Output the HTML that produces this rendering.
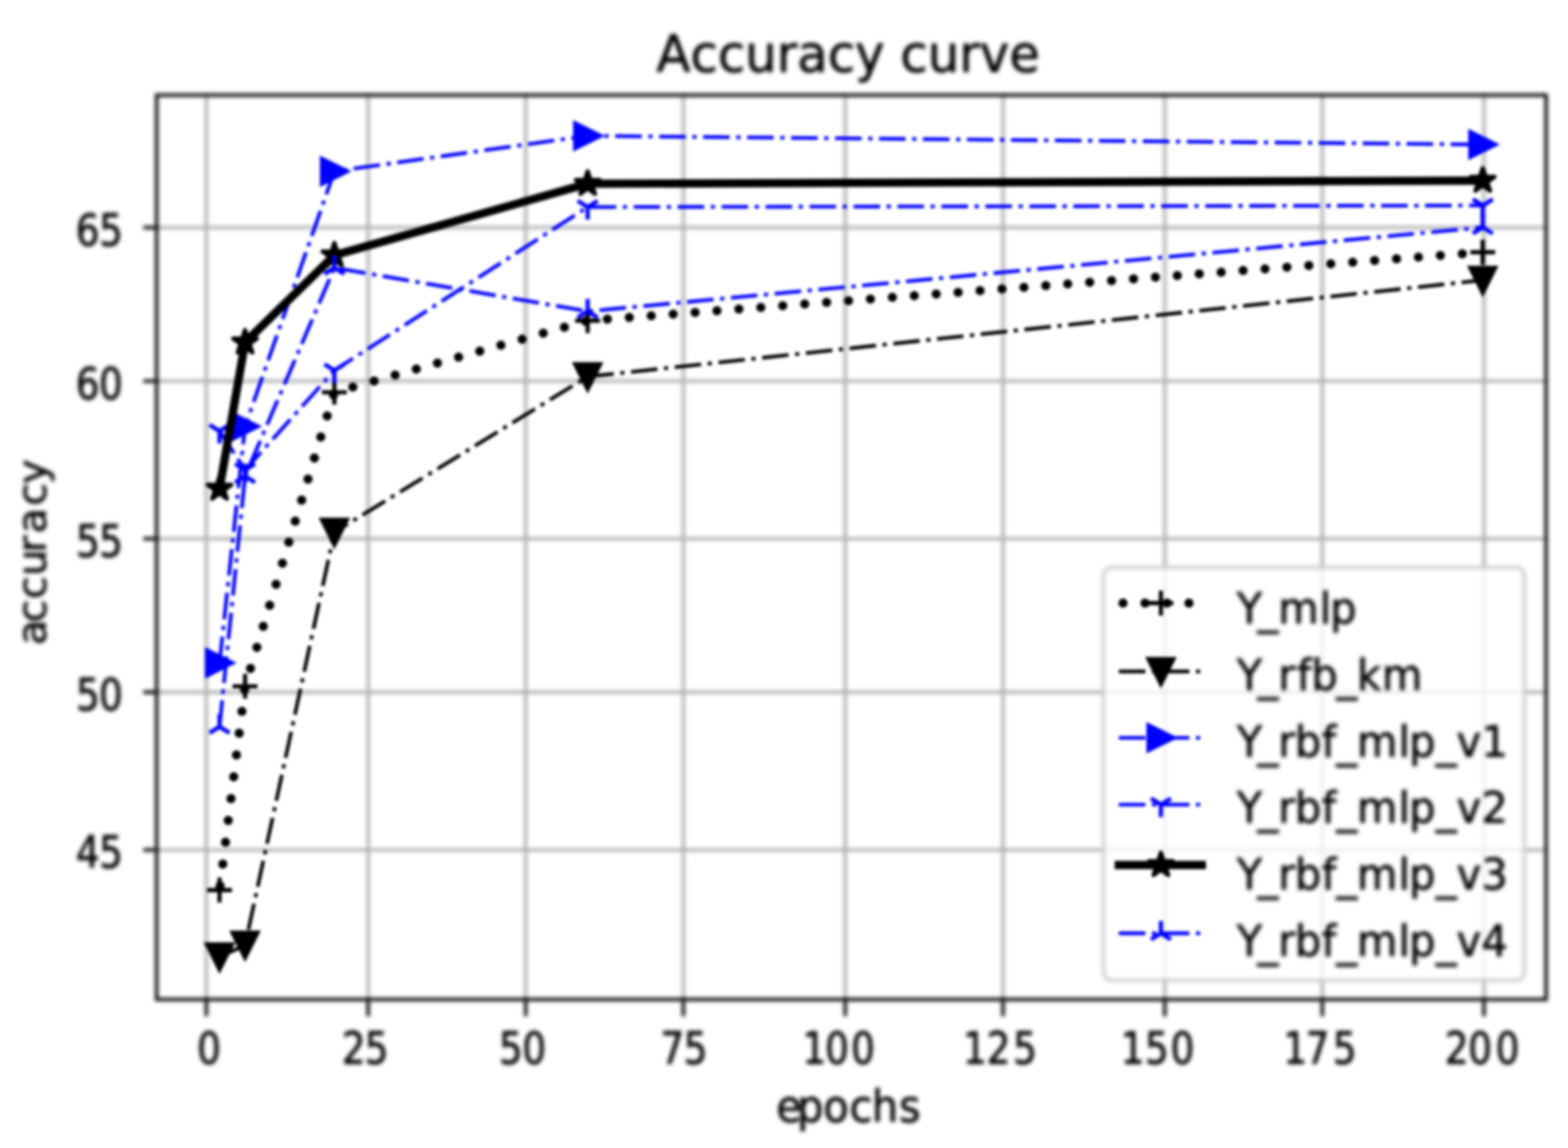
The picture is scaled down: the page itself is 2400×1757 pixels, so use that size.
<!DOCTYPE html>
<html lang="en"><head><meta charset="utf-8"><title>Accuracy curve</title>
<style>html,body{margin:0;padding:0;background:#fff;}body{width:2400px;height:1757px;overflow:hidden;}svg{display:block;}text{font-family:"DejaVu Sans", "Liberation Sans", sans-serif;fill:#000;stroke:#000;stroke-width:1px;}</style></head><body>
<svg width="2400" height="1757" viewBox="0 0 2400 1757">
<defs><filter id="b" x="0" y="0" width="2400" height="1757" filterUnits="userSpaceOnUse" color-interpolation-filters="sRGB"><feGaussianBlur stdDeviation="3.0"/></filter>
<filter id="b2" x="0" y="0" width="2400" height="1757" filterUnits="userSpaceOnUse" color-interpolation-filters="sRGB"><feGaussianBlur stdDeviation="2.2"/></filter>
<clipPath id="c"><rect x="239.8" y="145.6" width="2126.7" height="1384.0"/></clipPath></defs>
<rect width="2400" height="1757" fill="#fff"/>
<g filter="url(#b)">
<path d="M315.9 145.6V1529.6M563.5 145.6V1529.6M804.7 145.6V1529.6M1046.0 145.6V1529.6M1293.7 145.6V1529.6M1535.2 145.6V1529.6M1782.8 145.6V1529.6M2023.9 145.6V1529.6M2271.3 145.6V1529.6M239.8 348.2H2366.5M239.8 583.2H2366.5M239.8 824.5H2366.5M239.8 1059.4H2366.5M239.8 1300.7H2366.5" stroke="#b0b0b0" stroke-width="5.08" fill="none"/>
<path d="M315.9 1529.6v26.0M563.5 1529.6v26.0M804.7 1529.6v26.0M1046.0 1529.6v26.0M1293.7 1529.6v26.0M1535.2 1529.6v26.0M1782.8 1529.6v26.0M2023.9 1529.6v26.0M2271.3 1529.6v26.0M239.8 348.2h-20.5M239.8 583.2h-20.5M239.8 824.5h-20.5M239.8 1059.4h-20.5M239.8 1300.7h-20.5" stroke="#000" stroke-width="5.08" fill="none"/>
</g>
<g filter="url(#b2)"><g clip-path="url(#c)">
<path d="M336.0 1362.2L375.1 1050.3L511.8 600.3L899.5 490.7L2269.5 386.0" stroke="#000" stroke-width="13.97" fill="none" stroke-linejoin="round" stroke-dasharray="0.1 33.55" stroke-dashoffset="-6.35" stroke-linecap="round"/>
<path d="M317.0 1362.2H355.1M336.0 1343.1V1381.2" stroke="#000" stroke-width="6.35" fill="none"/>
<path d="M356.0 1050.3H394.1M375.1 1031.2V1069.3" stroke="#000" stroke-width="6.35" fill="none"/>
<path d="M492.8 600.3H530.8M511.8 581.2V619.3" stroke="#000" stroke-width="6.35" fill="none"/>
<path d="M880.4 490.7H918.5M899.5 471.7V509.8" stroke="#000" stroke-width="6.35" fill="none"/>
<path d="M2250.5 386.0H2288.5M2269.5 366.9V405.0" stroke="#000" stroke-width="6.35" fill="none"/>
<path d="M336.0 1464.6L375.1 1446.5L511.8 814.5L899.5 576.4L2269.5 428.8" stroke="#000" stroke-width="5.59" fill="none" stroke-linejoin="round" stroke-dasharray="40.63 10.16 6.35 10.16"/>
<path d="M336.0 1483.6L317.0 1445.5L355.1 1445.5Z" stroke="#000" stroke-width="6.35" fill="#000"/>
<path d="M375.1 1465.5L356.0 1427.4L394.1 1427.4Z" stroke="#000" stroke-width="6.35" fill="#000"/>
<path d="M511.8 833.6L492.8 795.5L530.8 795.5Z" stroke="#000" stroke-width="6.35" fill="#000"/>
<path d="M899.5 595.5L880.4 557.4L918.5 557.4Z" stroke="#000" stroke-width="6.35" fill="#000"/>
<path d="M2269.5 447.9L2250.5 409.8L2288.5 409.8Z" stroke="#000" stroke-width="6.35" fill="#000"/>
<path d="M336.0 1014.6L375.1 652.6L511.8 262.2L899.5 207.9L2269.5 221.2" stroke="#0000ff" stroke-width="5.59" fill="none" stroke-linejoin="round" stroke-dasharray="40.63 10.16 6.35 10.16"/>
<path d="M355.1 1014.6L317.0 995.5L317.0 1033.6Z" stroke="#0000ff" stroke-width="6.35" fill="#0000ff"/>
<path d="M394.1 652.6L356.0 633.6L356.0 671.7Z" stroke="#0000ff" stroke-width="6.35" fill="#0000ff"/>
<path d="M530.8 262.2L492.8 243.1L492.8 281.2Z" stroke="#0000ff" stroke-width="6.35" fill="#0000ff"/>
<path d="M918.5 207.9L880.4 188.8L880.4 226.9Z" stroke="#0000ff" stroke-width="6.35" fill="#0000ff"/>
<path d="M2288.5 221.2L2250.5 202.2L2250.5 240.2Z" stroke="#0000ff" stroke-width="6.35" fill="#0000ff"/>
<path d="M336.0 659.8L375.1 719.3L511.8 566.9L899.5 316.9L2269.5 314.5" stroke="#0000ff" stroke-width="5.59" fill="none" stroke-linejoin="round" stroke-dasharray="40.63 10.16 6.35 10.16"/>
<path d="M336.0 659.8L336.0 678.8M336.0 659.8L351.3 650.3M336.0 659.8L320.8 650.3" stroke="#0000ff" stroke-width="6.35" fill="none"/>
<path d="M375.1 719.3L375.1 738.4M375.1 719.3L390.3 709.8M375.1 719.3L359.9 709.8" stroke="#0000ff" stroke-width="6.35" fill="none"/>
<path d="M511.8 566.9L511.8 586.0M511.8 566.9L527.0 557.4M511.8 566.9L496.6 557.4" stroke="#0000ff" stroke-width="6.35" fill="none"/>
<path d="M899.5 316.9L899.5 336.0M899.5 316.9L914.7 307.4M899.5 316.9L884.2 307.4" stroke="#0000ff" stroke-width="6.35" fill="none"/>
<path d="M2269.5 314.5L2269.5 333.6M2269.5 314.5L2284.7 305.0M2269.5 314.5L2254.3 305.0" stroke="#0000ff" stroke-width="6.35" fill="none"/>
<path d="M336.0 747.9L375.1 524.1L511.8 390.7L899.5 281.2L2269.5 276.4" stroke="#000" stroke-width="12.70" fill="none" stroke-linejoin="round" stroke-linecap="square"/>
<polygon points="336.0,728.8 340.3,742.0 354.1,742.0 342.9,750.1 347.2,763.3 336.0,755.2 324.8,763.3 329.1,750.1 317.9,742.0 331.8,742.0" stroke="#000" stroke-width="6.35" fill="#000" stroke-linejoin="round"/>
<polygon points="375.1,505.0 379.4,518.2 393.2,518.2 382.0,526.3 386.3,539.5 375.1,531.3 363.9,539.5 368.2,526.3 357.0,518.2 370.8,518.2" stroke="#000" stroke-width="6.35" fill="#000" stroke-linejoin="round"/>
<polygon points="511.8,371.7 516.1,384.8 529.9,384.8 518.7,393.0 523.0,406.1 511.8,398.0 500.6,406.1 504.9,393.0 493.7,384.8 507.5,384.8" stroke="#000" stroke-width="6.35" fill="#000" stroke-linejoin="round"/>
<polygon points="899.5,262.2 903.7,275.3 917.6,275.3 906.4,283.5 910.7,296.6 899.5,288.5 888.3,296.6 892.6,283.5 881.4,275.3 895.2,275.3" stroke="#000" stroke-width="6.35" fill="#000" stroke-linejoin="round"/>
<polygon points="2269.5,257.4 2273.8,270.6 2287.6,270.6 2276.4,278.7 2280.7,291.9 2269.5,283.7 2258.3,291.9 2262.6,278.7 2251.4,270.6 2265.2,270.6" stroke="#000" stroke-width="6.35" fill="#000" stroke-linejoin="round"/>
<path d="M336.0 1112.2L375.1 728.8L511.8 409.8L899.5 476.4L2269.5 347.9" stroke="#0000ff" stroke-width="5.59" fill="none" stroke-linejoin="round" stroke-dasharray="40.63 10.16 6.35 10.16"/>
<path d="M336.0 1112.2L336.0 1093.1M336.0 1112.2L351.3 1121.7M336.0 1112.2L320.8 1121.7" stroke="#0000ff" stroke-width="6.35" fill="none"/>
<path d="M375.1 728.8L375.1 709.8M375.1 728.8L390.3 738.4M375.1 728.8L359.9 738.4" stroke="#0000ff" stroke-width="6.35" fill="none"/>
<path d="M511.8 409.8L511.8 390.7M511.8 409.8L527.0 419.3M511.8 409.8L496.6 419.3" stroke="#0000ff" stroke-width="6.35" fill="none"/>
<path d="M899.5 476.4L899.5 457.4M899.5 476.4L914.7 486.0M899.5 476.4L884.2 486.0" stroke="#0000ff" stroke-width="6.35" fill="none"/>
<path d="M2269.5 347.9L2269.5 328.8M2269.5 347.9L2284.7 357.4M2269.5 347.9L2254.3 357.4" stroke="#0000ff" stroke-width="6.35" fill="none"/>
</g></g>
<g filter="url(#b)">
<rect x="239.8" y="145.6" width="2126.7" height="1384.0" fill="none" stroke="#000" stroke-width="5.08"/>
<text transform="translate(0 1628.0) scale(0.9 1.06)" x="335.3" y="0" font-size="63.49">0</text>
<text transform="translate(0 1628.0) scale(0.9 1.06)" x="581.4 620.4" y="0" font-size="63.49">25</text>
<text transform="translate(0 1628.0) scale(0.9 1.06)" x="848.5 888.4" y="0" font-size="63.49">50</text>
<text transform="translate(0 1628.0) scale(0.9 1.06)" x="1123.4 1162.7" y="0" font-size="63.49">75</text>
<text transform="translate(0 1628.0) scale(0.9 1.06)" x="1364.8 1403.3 1447.5" y="0" font-size="63.49">100</text>
<text transform="translate(0 1628.0) scale(0.9 1.06)" x="1637.9 1678.1 1723.0" y="0" font-size="63.49">125</text>
<text transform="translate(0 1628.0) scale(0.9 1.06)" x="1906.0 1947.2 1990.8" y="0" font-size="63.49">150</text>
<text transform="translate(0 1628.0) scale(0.9 1.06)" x="2182.6 2220.6 2266.7" y="0" font-size="63.49">175</text>
<text transform="translate(0 1628.0) scale(0.9 1.06)" x="2457.3 2496.9 2543.7" y="0" font-size="63.49">200</text>
<text transform="translate(0 375.7) scale(0.9 1.06)" x="128.8 168.7" y="0" font-size="63.49">65</text>
<text transform="translate(0 610.7) scale(0.9 1.06)" x="128.8 168.4" y="0" font-size="63.49">60</text>
<text transform="translate(0 852.0) scale(0.9 1.06)" x="129.4 168.7" y="0" font-size="63.49">55</text>
<text transform="translate(0 1086.9) scale(0.9 1.06)" x="129.4 168.4" y="0" font-size="63.49">50</text>
<text transform="translate(0 1328.2) scale(0.9 1.06)" x="129.3 168.7" y="0" font-size="63.49">45</text>
<text transform="translate(0 109.5) scale(1.0 1.03)" x="1004.7 1056.8 1098.7 1140.6 1188.9 1220.2 1266.9 1308.8 1353.9 1378.1 1420.0 1468.3 1499.6 1544.7" y="0" font-size="76.19">Accuracy curve</text>
<text transform="translate(0 1717.5) scale(1.0 1.07)" x="1188.2 1220.0 1260.3 1300.3 1334.5 1375.9" y="0" font-size="63.49">epochs</text>
<text transform="translate(69.5 984.7) rotate(-90) scale(1.0 0.96)" x="-2.5 32.1 68.1 103.5 138.9 168.3 210.8 244.0" y="0" font-size="63.49">accuracy</text>
<rect x="1689.1" y="868.5" width="644.2" height="631.9" rx="12.7" ry="12.7" fill="#fff" fill-opacity="0.8" stroke="#ccc" stroke-opacity="0.8" stroke-width="6.35"/>
<text transform="translate(0 954.0) scale(1.0 1.03)" x="1893.0 1924.7 1956.5 2020.0 2036.0" y="0" font-size="63.49">Y_mlp</text>
<text transform="translate(0 1055.8) scale(1.0 1.03)" x="1893.0 1924.7 1956.5 1984.9 2007.3 2045.4 2077.1 2115.2" y="0" font-size="63.49">Y_rfb_km</text>
<text transform="translate(0 1157.6) scale(1.0 1.03)" x="1893.0 1924.7 1956.5 1981.9 2023.0 2045.4 2077.1 2140.6 2156.7 2197.8 2229.5 2267.6" y="0" font-size="63.49">Y_rbf_mlp_v1</text>
<text transform="translate(0 1259.4) scale(1.0 1.03)" x="1893.0 1924.7 1956.5 1981.9 2023.0 2045.4 2077.1 2140.6 2156.7 2197.8 2229.5 2267.6" y="0" font-size="63.49">Y_rbf_mlp_v2</text>
<text transform="translate(0 1361.2) scale(1.0 1.03)" x="1893.0 1924.7 1956.5 1981.9 2023.0 2045.4 2077.1 2140.6 2156.7 2197.8 2229.5 2267.6" y="0" font-size="63.49">Y_rbf_mlp_v3</text>
<text transform="translate(0 1463.0) scale(1.0 1.03)" x="1893.0 1924.7 1956.5 1981.9 2023.0 2045.4 2077.1 2140.6 2156.7 2197.8 2229.5 2267.6" y="0" font-size="63.49">Y_rbf_mlp_v4</text>
</g>
<g filter="url(#b2)">
<path d="M1712.5 923.0L1839.5 923.0" stroke="#000" stroke-width="13.97" fill="none" stroke-linejoin="round" stroke-dasharray="0.1 33.55" stroke-dashoffset="-6.35" stroke-linecap="round"/>
<path d="M1757.9 923.0H1795.9M1776.9 904.0V942.0" stroke="#000" stroke-width="6.35" fill="none"/>
<path d="M1712.5 1027.6L1839.5 1027.6" stroke="#000" stroke-width="5.59" fill="none" stroke-linejoin="round" stroke-dasharray="40.63 10.16 6.35 10.16"/>
<path d="M1776.9 1046.6L1757.9 1008.6L1795.9 1008.6Z" stroke="#000" stroke-width="6.35" fill="#000"/>
<path d="M1712.5 1129.2L1839.5 1129.2" stroke="#0000ff" stroke-width="5.59" fill="none" stroke-linejoin="round" stroke-dasharray="40.63 10.16 6.35 10.16"/>
<path d="M1795.9 1129.2L1757.9 1110.2L1757.9 1148.2Z" stroke="#0000ff" stroke-width="6.35" fill="#0000ff"/>
<path d="M1712.5 1231.5L1839.5 1231.5" stroke="#0000ff" stroke-width="5.59" fill="none" stroke-linejoin="round" stroke-dasharray="40.63 10.16 6.35 10.16"/>
<path d="M1776.9 1231.5L1776.9 1250.5M1776.9 1231.5L1792.1 1222.0M1776.9 1231.5L1761.7 1222.0" stroke="#0000ff" stroke-width="6.35" fill="none"/>
<path d="M1712.5 1323.9L1839.5 1323.9" stroke="#000" stroke-width="12.70" fill="none" stroke-linejoin="round" stroke-linecap="square"/>
<polygon points="1776.9,1304.9 1781.2,1318.0 1795.0,1318.0 1783.8,1326.1 1788.1,1339.3 1776.9,1331.2 1765.7,1339.3 1770.0,1326.1 1758.8,1318.0 1772.6,1318.0" stroke="#000" stroke-width="6.35" fill="#000" stroke-linejoin="round"/>
<path d="M1712.5 1428.4L1839.5 1428.4" stroke="#0000ff" stroke-width="5.59" fill="none" stroke-linejoin="round" stroke-dasharray="40.63 10.16 6.35 10.16"/>
<path d="M1776.9 1428.4L1776.9 1409.4M1776.9 1428.4L1792.1 1437.9M1776.9 1428.4L1761.7 1437.9" stroke="#0000ff" stroke-width="6.35" fill="none"/>
</g></svg></body></html>
